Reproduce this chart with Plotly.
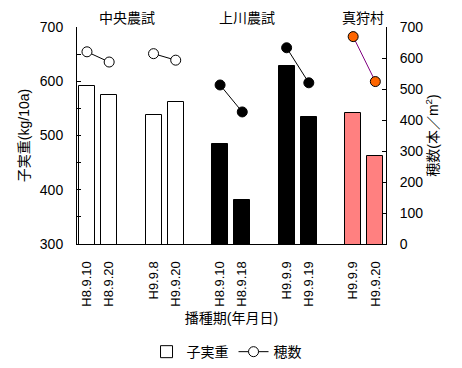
import plotly.graph_objects as go

categories = ["H8.9.10", "H8.9.20", "H9.9.8", "H9.9.20", "H8.9.10", "H8.9.18",
              "H9.9.9", "H9.9.19", "H9.9.9", "H9.9.20"]
slots = [0, 1, 3, 4, 6, 7, 9, 10, 12, 13]
yield_kg = [592, 574, 537, 561, 485, 381, 628, 534, 542, 463]
ears = [620, 587, 614, 593, 513, 426, 633, 520, 669, 524]
sites = ["中央農試", "上川農試", "真狩村"]
bar_colors = ["white"] * 4 + ["black"] * 4 + ["#FF8080"] * 2

FONT = "Liberation Sans, Arial, Noto Sans CJK JP"

fig = go.Figure()
fig.add_trace(go.Bar(
    x=slots, y=yield_kg, name="子実重", width=0.72,
    marker=dict(color=bar_colors, line=dict(color="black", width=1)),
    yaxis="y", showlegend=True,
))

def seg(idx):
    xs, ys = [], []
    for k, (a, b) in enumerate(idx):
        if k:
            xs.append(None); ys.append(None)
        xs += [slots[a], slots[b]]
        ys += [ears[a], ears[b]]
    return xs, ys

groups = [
    ([(0, 1), (2, 3)], "white", "black", True),
    ([(4, 5), (6, 7)], "black", "black", False),
    ([(8, 9)], "#FF6600", "#800080", False),
]
for pairs, mcol, lcol, show in groups:
    xs, ys = seg(pairs)
    fig.add_trace(go.Scatter(
        x=xs, y=ys, yaxis="y2", mode="lines+markers", name="穂数",
        showlegend=show, connectgaps=False,
        line=dict(color=lcol, width=1),
        marker=dict(size=10, color=mcol, line=dict(color="black", width=1)),
    ))

for name, xc in zip(sites, [1.8, 7.2, 12.45]):
    fig.add_annotation(x=xc, y=1.04, xref="x", yref="paper", text=name,
                       showarrow=False, yanchor="middle",
                       font=dict(size=14, color="black", family=FONT))

fig.update_layout(
    width=454, height=360,
    margin=dict(l=69, r=76, t=19, b=124, autoexpand=False),
    paper_bgcolor="white", plot_bgcolor="white",
    font=dict(family=FONT, size=14, color="black"),
    bargap=0,
    xaxis=dict(
        range=[-0.45, 13.48], tickvals=slots, ticktext=categories, automargin=False,
        tickangle=-90, ticks="", showline=True, linecolor="black", linewidth=1,
        showgrid=False, zeroline=False, tickfont=dict(size=13), ticklabelstandoff=11,
        title=dict(text="播種期(年月日)", font=dict(size=14), standoff=7),
    ),
    yaxis=dict(
        range=[300, 700], tickvals=[300, 400, 500, 600, 700], automargin=False,
        ticks="inside", ticklen=4, tickcolor="black", ticklabelstandoff=10,
        minor=dict(dtick=50, ticks="inside", ticklen=4, tickcolor="black", showgrid=False),
        showline=True, linecolor="black", linewidth=1, showgrid=False, zeroline=False,
        title=dict(text="子実重(kg/10a)", font=dict(size=14), standoff=6),
        tickfont=dict(size=14),
    ),
    yaxis2=dict(
        range=[0, 700], tickvals=[0, 100, 200, 300, 400, 500, 600, 700],
        overlaying="y", side="right", automargin=False,
        ticks="inside", ticklen=4, tickcolor="black", ticklabelstandoff=10,
        showline=True, linecolor="black", linewidth=1, showgrid=False, zeroline=False,
        title=dict(text="穂数(本／m<sup>2</sup>)", font=dict(size=14), standoff=2),
        tickfont=dict(size=14),
    ),
    legend=dict(orientation="h", x=0.225, xanchor="left", y=-0.498, yanchor="middle",
                font=dict(size=14), bgcolor="rgba(0,0,0,0)", itemwidth=30),
)

fig.write_html("out.html")
